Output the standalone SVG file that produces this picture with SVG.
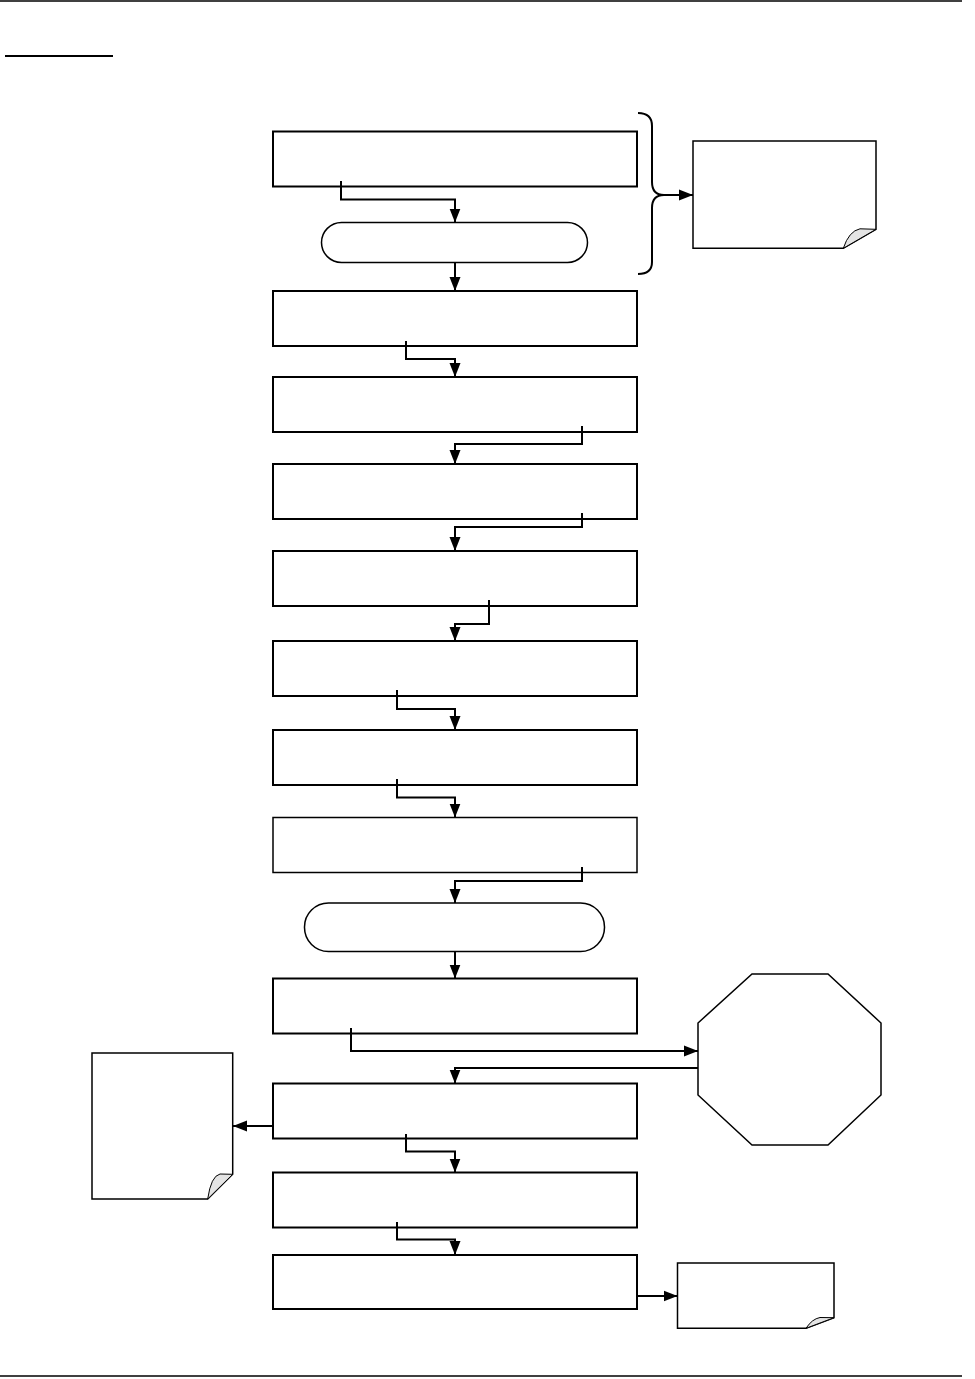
<svg xmlns="http://www.w3.org/2000/svg" width="975" height="1379" viewBox="0 0 975 1379">
<defs>
<style>
.box{fill:#fff;stroke:#000;stroke-width:2}
.term{fill:#fff;stroke:#000;stroke-width:1.5}
.note{fill:#fff;stroke:#000;stroke-width:1.5;stroke-linejoin:miter}
.flap{fill:#e4e4e4;stroke:#000;stroke-width:1}
.oct{fill:#fff;stroke:#000;stroke-width:1.5}
.con{fill:none;stroke:#000;stroke-width:2}
.conA{fill:none;stroke:#000;stroke-width:2;marker-end:url(#arr)}
.rule{stroke:#000;stroke-width:1.5}
</style>
<marker id="arr" markerUnits="userSpaceOnUse" markerWidth="15" markerHeight="12" refX="14" refY="6" orient="auto">
<path d="M0,0.5 L14,6 L0,11.5 Z" fill="#000"/>
</marker>
</defs>
<rect width="975" height="1379" fill="#fff"/>
<g id="page">
<line class="rule" x1="0" y1="1" x2="962" y2="1"/>
<line x1="5" y1="56" x2="113" y2="56" stroke="#000" stroke-width="2"/>
<line class="rule" x1="0" y1="1376" x2="962" y2="1376"/>
</g>
<g id="box1"><rect class="box" x="273" y="131.5" width="364" height="55"/></g>
<g id="term1"><rect class="term" x="321.5" y="222.5" width="266" height="40" rx="20"/></g>
<g id="box2"><rect class="box" x="273" y="291" width="364" height="55"/></g>
<g id="box3"><rect class="box" x="273" y="377" width="364" height="55"/></g>
<g id="box4"><rect class="box" x="273" y="464" width="364" height="55"/></g>
<g id="box5"><rect class="box" x="273" y="551" width="364" height="55"/></g>
<g id="box6"><rect class="box" x="273" y="641" width="364" height="55"/></g>
<g id="box7"><rect class="box" x="273" y="730" width="364" height="55"/></g>
<g id="box8"><rect class="term" x="273" y="817.5" width="364" height="55"/></g>
<g id="term2"><rect class="term" x="304.5" y="903" width="300" height="48.5" rx="24"/></g>
<g id="box9"><rect class="box" x="273" y="978.5" width="364" height="55"/></g>
<g id="box10"><rect class="box" x="273" y="1083.5" width="364" height="55"/></g>
<g id="box11"><rect class="box" x="273" y="1172.5" width="364" height="55"/></g>
<g id="box12"><rect class="box" x="273" y="1255" width="364" height="54"/></g>
<g id="octagon"><polygon class="oct" points="752,974 828,974 881,1023 881,1095 828,1145 752,1145 698,1095 698,1023"/></g>
<g id="note1">
<path class="note" d="M693,141 H876 V229.3 L843.3,248.3 H693 Z"/>
<path class="flap" d="M843.3,248.3 Q849,231 860,228.8 L876,229.3 Z"/>
</g>
<g id="note2">
<path class="note" d="M92,1053 H232.7 V1174.3 L207.7,1199 H92 Z"/>
<path class="flap" d="M207.7,1199 Q211,1176 220,1174 L232.7,1174.3 Z"/>
</g>
<g id="note3">
<path class="note" d="M677.5,1263 H834 V1317.7 L806,1328.3 H677.5 Z"/>
<path class="flap" d="M806,1328.3 Q812,1319 820,1317.5 L834,1317.7 Z"/>
</g>
<g id="brace">
<path class="con" stroke-width="1.5" d="M638,113 C646,113 652,116 652,126 L652,182 C652,191 656,195 664,195 C656,195 652,199 652,208 L652,262 C652,271 646,274 638,274"/>
</g>
<g id="connectors">
<path class="conA" d="M341,181 V199.5 H455 V222.5"/>
<path class="conA" d="M455,262.5 V291"/>
<path class="conA" d="M406,341 V359 H455 V377"/>
<path class="conA" d="M582,426 V444 H455 V464"/>
<path class="conA" d="M582,513 V527 H455 V551"/>
<path class="conA" d="M489,600 V624 H455 V641"/>
<path class="conA" d="M397,690 V709 H455 V730"/>
<path class="conA" d="M397,779 V797.5 H455 V817.5"/>
<path class="conA" d="M582,867 V881 H455 V903"/>
<path class="conA" d="M455,951.5 V978.5"/>
<path class="conA" d="M351,1028 V1051 H698"/>
<path class="conA" d="M698,1068 H455 V1083.5"/>
<path class="conA" d="M273,1126 H233"/>
<path class="conA" d="M406,1134 V1151.5 H455 V1172.5"/>
<path class="conA" d="M397,1222 V1239.5 H455 V1255"/>
<path class="conA" d="M637,1296 H677.5"/>
<path class="conA" d="M664,195 H693"/>
</g>
</svg>
